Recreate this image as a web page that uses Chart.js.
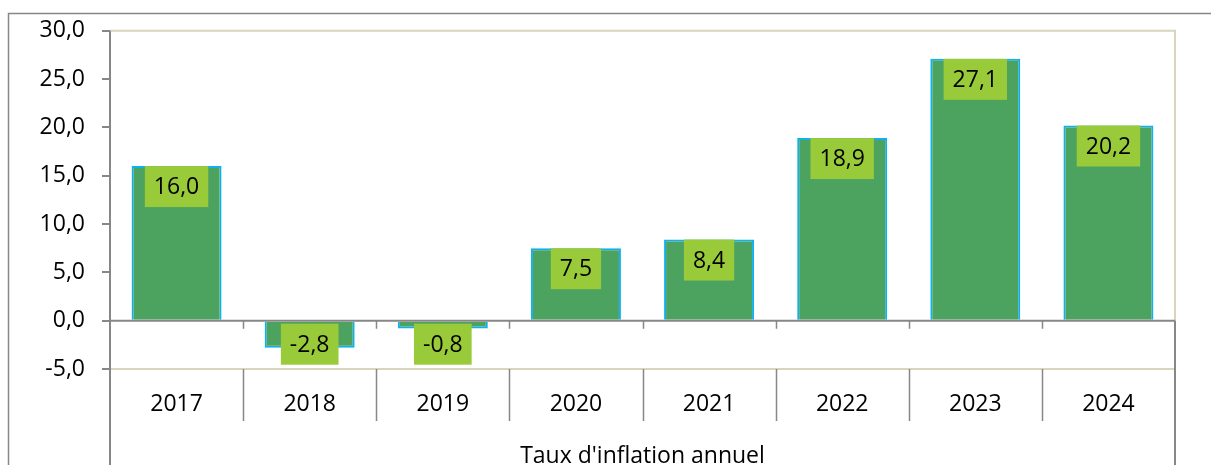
<!DOCTYPE html>
<html lang="fr">
<head>
    <meta charset="UTF-8">
    <title>Taux d'inflation annuel</title>
    <script src="https://cdn.jsdelivr.net/npm/chart.js"></script>
    <style>
        body { margin: 0; background: #fff; }
        #wrap { width: 1211px; height: 465px; position: relative; }
    </style>
</head>
<body>
    <div id="wrap">
        <canvas id="inflation"></canvas>
    </div>

    <script>
        var years = ['2017', '2018', '2019', '2020', '2021', '2022', '2023', '2024'];
        var inflation = [16.0, -2.8, -0.8, 7.5, 8.4, 18.9, 27.1, 20.2];
        var seriesName = "Taux d'inflation annuel";

        var FONT = "'Open Sans', 'Noto Sans', sans-serif";
        var GREY = '#878787';
        var BEIGE = '#d8d4bd';

        function fmt(v) {
            return v.toFixed(1).replace('.', ',');
        }

        // frame, plot border, zero line, category table lines
        var framePlugin = {
            id: 'frame',
            afterDatasetsDraw: function (chart) {
                var ctx = chart.ctx;
                var a = chart.chartArea;
                var ys = chart.scales.y;
                var H = chart.height;
                var y0 = ys.getPixelForValue(0);
                var step = (a.right - a.left) / years.length;

                ctx.save();
                ctx.lineCap = 'butt';

                // outer frame
                ctx.strokeStyle = GREY;
                ctx.lineWidth = 1.5;
                ctx.beginPath();
                ctx.moveTo(8.5, H);
                ctx.lineTo(8.5, 13.5);
                ctx.lineTo(chart.width, 13.5);
                ctx.stroke();

                // plot area border
                ctx.strokeStyle = BEIGE;
                ctx.lineWidth = 2;
                ctx.beginPath();
                ctx.moveTo(a.left, a.top);
                ctx.lineTo(a.right, a.top);
                ctx.lineTo(a.right, a.bottom);
                ctx.lineTo(a.left, a.bottom);
                ctx.stroke();

                ctx.strokeStyle = GREY;
                ctx.lineWidth = 2;
                ctx.beginPath();
                // y axis line down to the bottom
                ctx.moveTo(a.left, a.top);
                ctx.lineTo(a.left, H);
                // zero line
                ctx.moveTo(a.left, y0);
                ctx.lineTo(a.right, y0);
                // right side from zero line down
                ctx.moveTo(a.right, y0);
                ctx.lineTo(a.right, H);
                ctx.stroke();

                ctx.lineWidth = 1.5;
                ctx.beginPath();
                for (var i = 1; i < years.length; i++) {
                    var x = Math.round(a.left + i * step) + 0.5;
                    ctx.moveTo(x, y0);
                    ctx.lineTo(x, y0 + 8);
                    ctx.moveTo(x, a.bottom);
                    ctx.lineTo(x, a.bottom + 52);
                }
                ctx.stroke();
                ctx.restore();
            }
        };

        // green boxed value labels
        var labelPlugin = {
            id: 'boxLabels',
            afterDatasetsDraw: function (chart) {
                var ctx = chart.ctx;
                var meta = chart.getDatasetMeta(0);
                ctx.save();
                ctx.font = '23px ' + FONT;
                ctx.textAlign = 'center';
                ctx.textBaseline = 'middle';
                meta.data.forEach(function (bar, i) {
                    var v = inflation[i];
                    var txt = fmt(v);
                    var w = ctx.measureText(txt).width + 18;
                    var h = 41;
                    var top = v >= 0 ? bar.y : bar.base + 2;
                    ctx.fillStyle = '#99ca3a';
                    ctx.fillRect(bar.x - w / 2, top, w, h);
                    ctx.fillStyle = '#000';
                    ctx.fillText(txt, bar.x, top + h / 2 + 1);
                });
                ctx.restore();
            }
        };

        var ctx = document.getElementById('inflation').getContext('2d');

        new Chart(ctx, {
            type: 'bar',
            data: {
                labels: years,
                datasets: [{
                    label: seriesName,
                    data: inflation,
                    backgroundColor: '#4ca360',
                    borderColor: '#0fb0ee',
                    borderWidth: 2,
                    borderSkipped: 'start',
                    barPercentage: 0.676,
                    categoryPercentage: 1
                }]
            },
            options: {
                responsive: true,
                maintainAspectRatio: false,
                animation: false,
                layout: {
                    padding: { top: 30, right: 36, bottom: 0, left: 0 }
                },
                plugins: {
                    legend: { display: false },
                    tooltip: { enabled: false }
                },
                scales: {
                    x: {
                        grid: { display: false, drawTicks: false },
                        border: { display: false },
                        ticks: {
                            color: '#000',
                            padding: 22,
                            font: { family: FONT, size: 23 }
                        },
                        title: {
                            display: true,
                            text: seriesName,
                            color: '#000',
                            padding: { top: 0, bottom: 0 },
                            font: { family: FONT, size: 23, lineHeight: 0.72 }
                        },
                        afterFit: function (scale) {
                            scale.height = 96;
                        }
                    },
                    y: {
                        min: -5,
                        max: 30,
                        grid: {
                            drawOnChartArea: false,
                            drawTicks: true,
                            tickLength: 8,
                            color: GREY,
                            lineWidth: 2
                        },
                        border: { display: false },
                        ticks: {
                            stepSize: 5,
                            color: '#000',
                            padding: 17,
                            font: { family: FONT, size: 23 },
                            callback: function (v) { return fmt(v); }
                        },
                        afterFit: function (scale) {
                            scale.width = 110;
                        }
                    }
                }
            },
            plugins: [framePlugin, labelPlugin]
        });
    </script>
</body>
</html>
